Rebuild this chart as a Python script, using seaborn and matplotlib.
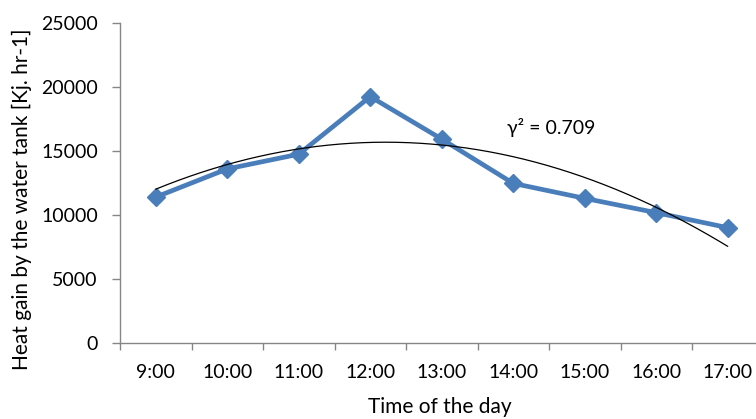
import numpy as np
import pandas as pd
import matplotlib
matplotlib.use("Agg")
import matplotlib.pyplot as plt
import seaborn as sns

times = ["9:00", "10:00", "11:00", "12:00", "13:00", "14:00", "15:00", "16:00", "17:00"]
heat_gain = [11400, 13600, 14750, 19250, 15930, 12470, 11300, 10180, 9010]
y_ticks = [0, 5000, 10000, 15000, 20000, 25000]
r2_label = "γ² = 0.709"

sns.set_theme(style="white", rc={"xtick.bottom": True, "ytick.left": True,
                                 "ytick.major.size": 6, "xtick.minor.size": 5,
                                 "ytick.major.width": 1, "xtick.minor.width": 1})
plt.rcParams["font.family"] = ["Lato", "DejaVu Sans"]

fig = plt.figure(figsize=(7.56, 4.19), dpi=100)
ax = fig.add_axes([120 / 756, 76 / 419, 643.5 / 756, 320 / 419])

pos = np.arange(len(times))
df = pd.DataFrame({"pos": pos, "val": heat_gain})
sns.lineplot(data=df, x="pos", y="val", ax=ax, color="#4A7EBB", linewidth=3.4,
             marker="D", markersize=9, markeredgecolor="#4A7EBB", markeredgewidth=1,
             clip_on=False, zorder=3)

# quadratic trendline
coef = np.polyfit(pos, heat_gain, 2)
xs = np.linspace(pos[0], pos[-1], 200)
ax.plot(xs, np.polyval(coef, xs), color="black", linewidth=0.9, zorder=4)

ax.text(5.53, 16800, r2_label, fontsize=14, ha="center", va="center", color="black")

ax.set_xlim(-0.5, len(times) - 0.5)
ax.set_ylim(0, 25000)
ax.set_yticks(y_ticks)
ax.set_yticklabels([str(v) for v in y_ticks])
ax.set_xticks(pos)
ax.set_xticklabels(times)
ax.set_xticks(np.arange(-0.5, len(times) + 0.5, 1), minor=True)

for s in ["top", "right"]:
    ax.spines[s].set_visible(False)
for s in ["left", "bottom"]:
    ax.spines[s].set_color("#868686")
    ax.spines[s].set_linewidth(1.0)

ax.tick_params(axis="y", which="major", left=True, length=6, width=1, color="#868686",
               labelsize=14, pad=10, labelcolor="black")
ax.tick_params(axis="x", which="major", bottom=False, length=0, labelsize=14, pad=15,
               labelcolor="black")
ax.tick_params(axis="x", which="minor", bottom=True, length=5, width=1, color="#868686")

ax.set_xlabel("Time of the day", fontsize=15, color="black", va="center")
ax.xaxis.set_label_coords((440 - 120) / 643.5, (343 - 407) / 320)
ax.set_ylabel("Heat gain by the water tank [Kj. hr-1]", fontsize=15, color="black", va="center")
ax.yaxis.set_label_coords((22 - 120) / 643.5, (343 - 199.5) / 320)

fig.savefig("out.png", dpi=100)
